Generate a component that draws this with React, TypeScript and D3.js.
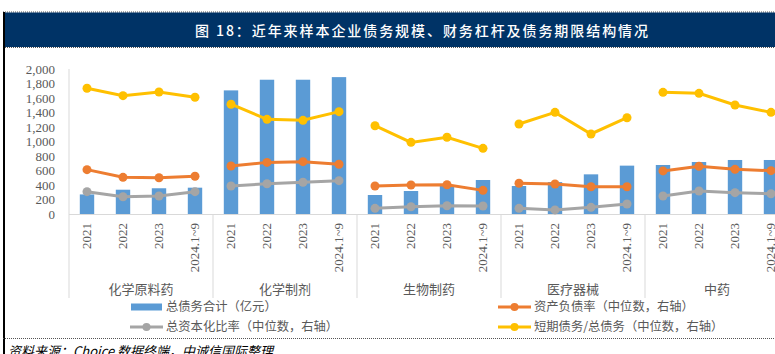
import React from 'react'
import * as d3 from 'd3'

const industries = ['化学原料药', '化学制剂', '生物制药', '医疗器械', '中药']
const periods = ['2021', '2022', '2023', '2024.1~9']

// 总债务合计（亿元），左轴
const totalDebt = [
  270, 335, 355, 363,
  1705, 1852, 1852, 1888,
  262, 317, 400, 469,
  386, 440, 547, 667,
  676, 717, 745, 745
]
// 资产负债率（中位数，右轴，%）
const debtRatio = [
  30.6, 25.3, 25.0, 26.0,
  33.1, 35.6, 36.1, 34.3,
  19.3, 20.0, 20.2, 16.3,
  21.2, 20.7, 18.8, 18.8,
  29.7, 32.9, 30.8, 29.9
]
// 总资本化比率（中位数，右轴，%）
const capRatio = [
  15.4, 11.9, 12.4, 15.4,
  19.3, 20.9, 21.9, 23.0,
  3.9, 5.0, 5.7, 5.5,
  3.9, 2.8, 4.6, 6.9,
  12.4, 15.9, 14.7, 14.0
]
// 短期债务/总债务（中位数，右轴，%）
const shortRatio = [
  86.7, 81.6, 84.1, 80.5,
  75.7, 65.3, 64.6, 70.6,
  60.9, 49.4, 52.9, 45.3,
  62.1, 70.1, 55.2, 66.4,
  83.9, 83.2, 75.2, 70.1
]

const leftTicks = [0, 200, 400, 600, 800, 1000, 1200, 1400, 1600, 1800, 2000]

const W = 775
const H = 354
const plotLeft = 69
const plotRight = 789
const plotTop = 69
const plotBottom = 214
const axisFoot = 298

const serif = '"Liberation Serif", "Times New Roman", serif'
const cjk = '"Noto Sans CJK SC", sans-serif'

const lineSeries = [
  { name: '资产负债率（中位数，右轴）', values: debtRatio, color: '#ED7D31' },
  { name: '总资本化比率（中位数，右轴）', values: capRatio, color: '#A5A5A5' },
  { name: '短期债务/总债务（中位数，右轴）', values: shortRatio, color: '#FFC000' }
]

export default function App() {
  const slots = d3.range(totalDebt.length)
  const x = d3.scaleBand<number>().domain(slots).range([plotLeft, plotRight])
  const step = x.step()
  const barW = step * 0.4
  const y = d3.scaleLinear().domain([0, 2000]).range([plotBottom, plotTop])
  const y2 = d3.scaleLinear().domain([0, 100]).range([plotBottom, plotTop])
  const cx = (i: number) => (x(i) as number) + x.bandwidth() / 2
  const line = d3.line<[number, number]>().x(d => d[0]).y(d => d[1])

  const legendItems = [
    { name: '总债务合计（亿元）', color: '#5B9BD5', bar: true, lx: 130, ly: 307 },
    { name: lineSeries[0].name, color: lineSeries[0].color, bar: false, lx: 498, ly: 307 },
    { name: lineSeries[1].name, color: lineSeries[1].color, bar: false, lx: 130, ly: 327 },
    { name: lineSeries[2].name, color: lineSeries[2].color, bar: false, lx: 498, ly: 327 }
  ]

  return (
    <svg width={W} height={H} style={{ position: 'absolute', left: 0, top: 0, background: '#fff' }}>
      {/* frame and title */}
      <line x1={3} x2={W} y1={12} y2={12} stroke="#555" strokeDasharray="1 1" />
      <rect x={3} y={12.5} width={W - 3} height={34.5} fill="#003366" />
      <line x1={3} x2={W} y1={47.5} y2={47.5} stroke="#555" strokeDasharray="1 1" />
      <line x1={4} x2={4} y1={12} y2={H} stroke="#000" strokeWidth={2} />
      <text
        x={195}
        y={35.5}
        fill="#fff"
        fontFamily={cjk}
        fontSize={14}
        fontWeight={500}
        textLength={453}
        lengthAdjust="spacing"
      >
        图 18：近年来样本企业债务规模、财务杠杆及债务期限结构情况
      </text>

      {/* axes */}
      <line x1={plotLeft} x2={plotLeft} y1={plotTop} y2={axisFoot} stroke="#D9D9D9" />
      <line x1={plotLeft} x2={plotRight} y1={plotBottom + 0.5} y2={plotBottom + 0.5} stroke="#D9D9D9" />
      {industries.map((_, g) => {
        const sx = (x(g * periods.length + periods.length - 1) as number) + step
        return <line key={g} x1={sx} x2={sx} y1={plotBottom} y2={axisFoot} stroke="#D9D9D9" />
      })}
      {leftTicks.map(t => (
        <text key={t} x={55} y={y(t)} dy="0.35em" textAnchor="end" fontFamily={serif} fontSize={13} fill="#595959">
          {d3.format(',')(t)}
        </text>
      ))}

      {/* bars */}
      {totalDebt.map((v, i) => (
        <rect key={i} x={cx(i) - barW / 2} y={y(v)} width={barW} height={plotBottom - y(v)} fill="#5B9BD5" />
      ))}

      {/* lines, broken between industries */}
      {lineSeries.map(s => (
        <g key={s.name}>
          {industries.map((_, g) => {
            const pts = periods.map((_, k) => {
              const i = g * periods.length + k
              return [cx(i), y2(s.values[i])] as [number, number]
            })
            return (
              <g key={g}>
                <path d={line(pts) ?? ''} fill="none" stroke={s.color} strokeWidth={3} />
                {pts.map((p, k) => (
                  <circle key={k} cx={p[0]} cy={p[1]} r={4.5} fill={s.color} />
                ))}
              </g>
            )
          })}
        </g>
      ))}

      {/* period labels */}
      {slots.map(i => (
        <text
          key={i}
          transform={`translate(${cx(i) + 4},${223}) rotate(-90)`}
          textAnchor="end"
          fontFamily={serif}
          fontSize={13}
          fill="#595959"
        >
          {periods[i % periods.length]}
        </text>
      ))}
      {industries.map((name, g) => {
        const mid = (cx(g * periods.length) + cx(g * periods.length + periods.length - 1)) / 2
        return (
          <text key={name} x={mid} y={294} textAnchor="middle" fontFamily={cjk} fontSize={13} fill="#595959">
            {name}
          </text>
        )
      })}

      {/* legend */}
      {legendItems.map(it => (
        <g key={it.name}>
          {it.bar ? (
            <rect x={it.lx + 1} y={it.ly - 3.5} width={31} height={7} fill={it.color} />
          ) : (
            <g>
              <line x1={it.lx} x2={it.lx + 33} y1={it.ly} y2={it.ly} stroke={it.color} strokeWidth={3} />
              <circle cx={it.lx + 16.5} cy={it.ly} r={4} fill={it.color} />
            </g>
          )}
          <text x={it.lx + 36} y={it.ly} dy="0.35em" fontFamily={cjk} fontSize={12.3} fill="#595959">
            {it.name}
          </text>
        </g>
      ))}

      {/* source */}
      <line x1={3} x2={W} y1={338.5} y2={338.5} stroke="#555" strokeDasharray="1 1" />
      <text x={8} y={356} fontFamily={cjk} fontSize={13} fontStyle="italic" fill="#000">
        资料来源：Choice 数据终端，中诚信国际整理
      </text>
    </svg>
  )
}
